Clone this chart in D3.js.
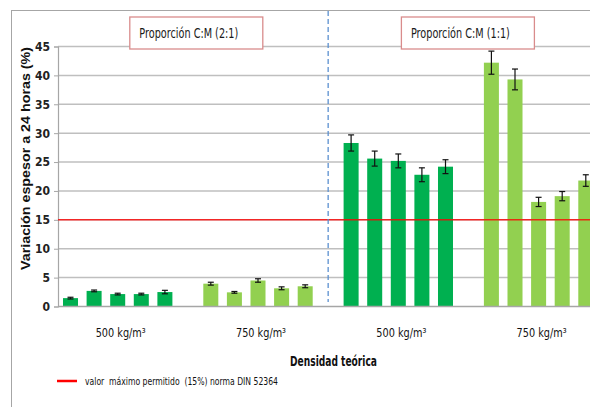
<!DOCTYPE html>
<html>
<head>
<meta charset="utf-8">
<script src="https://cdn.jsdelivr.net/npm/d3@7/dist/d3.min.js"></script>
<style>
html,body{margin:0;padding:0;background:#fff;}
svg{display:block;}
</style>
</head>
<body>
<svg id="chart" width="590" height="407"></svg>
<script>
// ---- data ----
const groupIds = ["g1", "g2", "g3", "g4"];
const groupLabels = ["500 kg/m³", "750 kg/m³", "500 kg/m³", "750 kg/m³"];
const groupColorKeys = ["dark", "light", "dark", "light"];
const seriesIds = ["s1", "s2", "s3", "s4", "s5"];
const values_g1 = [1.45, 2.7, 2.15, 2.15, 2.5];
const values_g2 = [3.95, 2.45, 4.5, 3.15, 3.5];
const values_g3 = [28.3, 25.6, 25.2, 22.8, 24.2];
const values_g4 = [42.2, 39.3, 18.1, 19.1, 21.8];
const errors_g1 = [0.15, 0.15, 0.15, 0.15, 0.3];
const errors_g2 = [0.25, 0.15, 0.3, 0.25, 0.25];
const errors_g3 = [1.4, 1.3, 1.2, 1.2, 1.2];
const errors_g4 = [2.0, 1.8, 0.8, 0.8, 1.0];
const yTicks = [0, 5, 10, 15, 20, 25, 30, 35, 40, 45];
const limitValue = 15;
const panelLabels = ["Proporción C:M (2:1)", "Proporción C:M (1:1)"];
const yTitle = "Variación espesor a 24 horas (%)";
const xTitle = "Densidad teórica";
const legendText = "valor  máximo permitido  (15%) norma DIN 52364";

const allValues = [values_g1, values_g2, values_g3, values_g4];
const allErrors = [errors_g1, errors_g2, errors_g3, errors_g4];
const colors = {dark: "#00b050", light: "#92d050"};

const narrow = "'Liberation Sans Narrow','DejaVu Sans Condensed','Roboto',sans-serif";

const svg = d3.select("#chart");

// frame
svg.append("line").attr("x1", 11).attr("x2", 590).attr("y1", 10.5).attr("y2", 10.5)
  .attr("stroke", "#a6a6a6").attr("stroke-width", 1);
svg.append("line").attr("x1", 11.5).attr("x2", 11.5).attr("y1", 10).attr("y2", 407)
  .attr("stroke", "#a6a6a6").attr("stroke-width", 1);

// scales
const y = d3.scaleLinear().domain([0, 45]).range([306.5, 46.5]);
const x0 = d3.scaleBand().domain(groupIds).range([47, 608.2]).padding(0);
const x1 = d3.scaleBand().domain(seriesIds).range([16, 125.4]).paddingInner(0.364).paddingOuter(0);

const plotLeft = 58;

// gridlines
svg.append("g").selectAll("line").data(yTicks.filter(d => d > 0)).join("line")
  .attr("x1", plotLeft).attr("x2", 590)
  .attr("y1", d => y(d)).attr("y2", d => y(d))
  .attr("stroke", "#bfbfbf").attr("stroke-width", 1.5);

// y axis
const yAxis = d3.axisLeft(y).tickValues(yTicks).tickSize(4).tickPadding(4);
const gy = svg.append("g").attr("transform", `translate(${plotLeft},0)`).call(yAxis);
gy.select(".domain").attr("stroke", "#a6a6a6").attr("stroke-width", 1.2);
gy.selectAll(".tick line").attr("stroke", "#a6a6a6");
gy.selectAll(".tick text").attr("font-family", narrow).attr("font-size", 12)
  .attr("fill", "#222").attr("font-weight", "bold");

// bars
const groups = svg.append("g").selectAll("g").data(groupIds).join("g")
  .attr("transform", d => `translate(${x0(d)},0)`);

groups.each(function(gid, gi) {
  const g = d3.select(this);
  const data = seriesIds.map((s, si) => ({s, v: allValues[gi][si], e: allErrors[gi][si]}));
  g.selectAll("rect").data(data).join("rect")
    .attr("x", d => x1(d.s)).attr("width", x1.bandwidth())
    .attr("y", d => y(d.v)).attr("height", d => y(0) - y(d.v))
    .attr("fill", colors[groupColorKeys[gi]]);
  const eb = g.selectAll("g.err").data(data).join("g").attr("class", "err");
  const cx = d => x1(d.s) + x1.bandwidth() / 2;
  eb.append("line")
    .attr("x1", cx).attr("x2", cx)
    .attr("y1", d => y(d.v + d.e)).attr("y2", d => y(d.v - d.e))
    .attr("stroke", "#111").attr("stroke-width", 1.2);
  eb.append("line")
    .attr("x1", d => cx(d) - 3).attr("x2", d => cx(d) + 3)
    .attr("y1", d => y(d.v + d.e)).attr("y2", d => y(d.v + d.e))
    .attr("stroke", "#111").attr("stroke-width", 1.2);
  eb.append("line")
    .attr("x1", d => cx(d) - 3).attr("x2", d => cx(d) + 3)
    .attr("y1", d => y(d.v - d.e)).attr("y2", d => y(d.v - d.e))
    .attr("stroke", "#111").attr("stroke-width", 1.2);
});

// x axis baseline
svg.append("line").attr("x1", plotLeft).attr("x2", 590).attr("y1", y(0)).attr("y2", y(0))
  .attr("stroke", "#a6a6a6").attr("stroke-width", 1.5);

// limit line
svg.append("line").attr("x1", plotLeft).attr("x2", 590).attr("y1", y(limitValue)).attr("y2", y(limitValue))
  .attr("stroke", "#ff0000").attr("stroke-opacity", 0.8).attr("stroke-width", 1.5);

// dashed separator between panels
const sepXv = (x0("g2") + x1(seriesIds[4]) + x1.bandwidth() + x0("g3") + x1(seriesIds[0])) / 2;
svg.append("line").attr("x1", sepXv).attr("x2", sepXv).attr("y1", 11).attr("y2", 302)
  .attr("stroke", "#5b8fd0").attr("stroke-width", 1.3).attr("stroke-dasharray", "5,3");

// x group labels
groupIds.forEach((gid, gi) => {
  const cx = x0(gid) + (x1(seriesIds[0]) + x1(seriesIds[4]) + x1.bandwidth()) / 2 + 3;
  svg.append("text").attr("x", cx - 25).attr("y", 337)
    .attr("font-family", narrow).attr("font-size", 12).attr("fill", "#111")
    .attr("textLength", 50).attr("lengthAdjust", "spacingAndGlyphs").text(groupLabels[gi]);
});

// panel label boxes
const boxes = [
  {cx: (x0("g1") + x0("g2") + x0.bandwidth()) / 2 + 9},
  {cx: (x0("g3") + x0("g4") + x0.bandwidth()) / 2 + 0}
];
boxes.forEach((b, i) => {
  svg.append("rect").attr("x", b.cx - 66.5).attr("y", 17).attr("width", 133).attr("height", 32)
    .attr("fill", "#fff").attr("stroke", "#d98c8c").attr("stroke-width", 1.3);
  svg.append("text").attr("x", b.cx - 57).attr("y", 38)
    .attr("font-family", narrow).attr("font-size", 13.5).attr("fill", "#1a1a1a")
    .attr("textLength", 99).attr("lengthAdjust", "spacingAndGlyphs")
    .text(panelLabels[i]);
});

// y title
svg.append("text").attr("transform", `translate(30,158.5) rotate(-90)`).attr("text-anchor", "middle")
  .attr("font-family", "'Liberation Sans',Arial,sans-serif").attr("font-weight", "bold")
  .attr("font-size", 13).attr("fill", "#111")
  .attr("textLength", 223).attr("lengthAdjust", "spacingAndGlyphs").text(yTitle);

// x title
svg.append("text").attr("x", 290).attr("y", 366)
  .attr("font-family", narrow).attr("font-weight", "bold").attr("font-size", 13.5)
  .attr("fill", "#111").attr("textLength", 87).attr("lengthAdjust", "spacingAndGlyphs").text(xTitle);

// legend
svg.append("line").attr("x1", 57).attr("x2", 77).attr("y1", 381).attr("y2", 381)
  .attr("stroke", "#ff0000").attr("stroke-width", 2.5);
svg.append("text").attr("x", 85).attr("y", 385).attr("font-family", narrow)
  .attr("font-size", 11).attr("fill", "#111").attr("xml:space", "preserve")
  .attr("textLength", 193).attr("lengthAdjust", "spacingAndGlyphs").text(legendText);
</script>
</body>
</html>
